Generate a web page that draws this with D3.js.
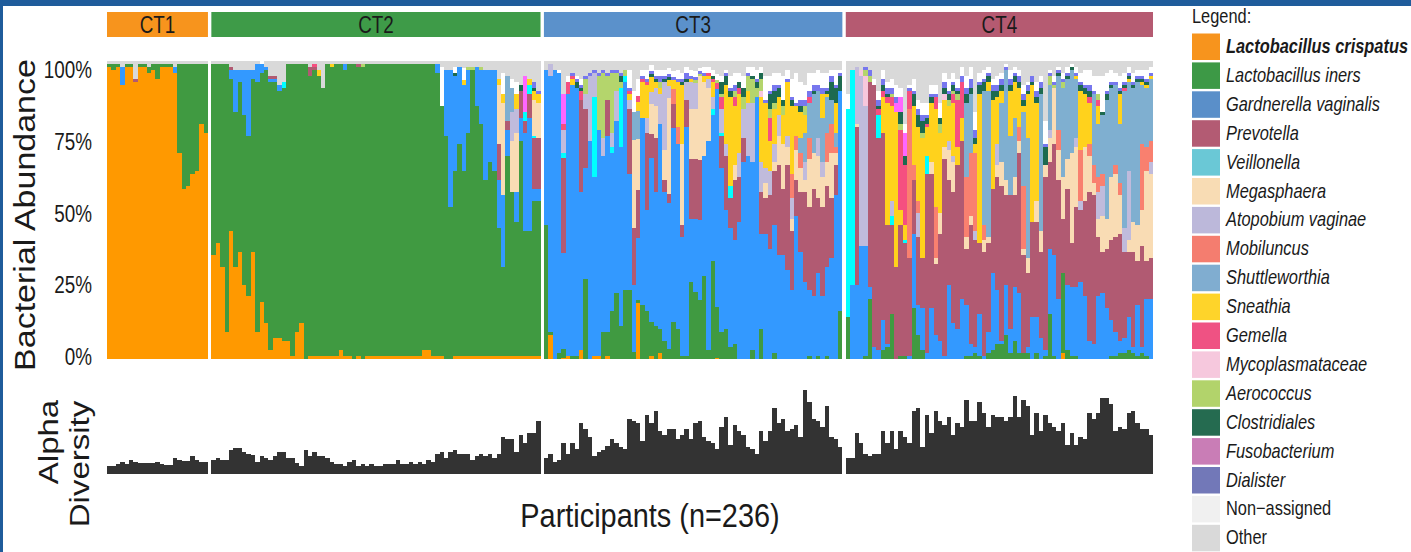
<!DOCTYPE html>
<html>
<head>
<meta charset="utf-8">
<title>Community types - bacterial abundance</title>
<script src="https://d3js.org/d3.v7.min.js"></script>
<style>
  body { margin: 0; background: #fff; }
  text { font-family: "Liberation Sans", Arial, sans-serif; fill: #1a1a1a; }
</style>
</head>
<body>
<script>
var width = 1411, height = 552;

var groups = ["CT1", "CT2", "CT3", "CT4"];
var groupColors = ["#f7941d", "#3e9b48", "#5b91cb", "#b55a71"];

var taxa = ["Lactobacillus crispatus", "Lactobacillus iners", "Gardnerella vaginalis", "Prevotella",
  "Veillonella", "Megasphaera", "Atopobium vaginae", "Mobiluncus", "Shuttleworthia", "Sneathia",
  "Gemella", "Mycoplasmataceae", "Aerococcus", "Clostridiales", "Fusobacterium", "Dialister",
  "Non\u2212assigned", "Other"];
var barColors = ["#ff9900", "#409a41", "#3399ff", "#b15a72", "#00ffff", "#f9dcb4", "#c0bbdc", "#f9806f",
  "#7fafd0", "#ffd21c", "#f54f80", "#f7c7dd", "#b4d56c", "#1d6a4f", "#ff66ff", "#7777ee", "#ffffff", "#d9d9d9"];
var legendColors = ["#f7941d", "#3d9946", "#5a8fc9", "#b35b73", "#6ac8d6", "#f8dcb4", "#bcb8da", "#f47d6f",
  "#80add0", "#fed42a", "#ef5283", "#f6c8dd", "#b2d36b", "#256b50", "#c97db6", "#7278b8", "#f0f0f0", "#d9d9d9"];

var yTicks = [0, 25, 50, 75, 100];

// % per participant, in taxa order (crispatus .. non-assigned); "Other" is the remainder
var ct1 = [[98,1],[97,2],[98,1],[92,0,6],[98,1],[98,1],[93,0,0,1],[98,1],[98,1],[96,2],[97,2],[94,5],
  [98,1],[98,1],[98,1],[96,0,2],[69,30],[57,42],[58,41],[62,37],[63,36],[79,20],[76,23]];

var ct2 = [[35,64],[39,60],[31,68],[9,90],[43,51,3,1],[31,52,14],[36,57,4],[25,57,15],[21,54,22],[36,58,3],
  [9,84,6],[19,77,3,0,0,0,0,0,0,0,0,0,0,0,0,0,1],[12,85,1],[3,90,1,1],[7,86,1,1],[7,83,2],[6,85,0,0,2],
  [6,93],[1,98],[9,90],[12,87],[0,99],[1,94,0,3],[1,96,0,1,0,0,0,0,0,0,1],[1,94,0,0,0,0,0,0,0,2],[1,90],
  [1,98],[1,97,0,0,0,0,0,0,0,1],[1,98],[3,96],[1,96,2],[1,98],[0,99],[1,97,0,1],[0,98,0,0,0,0,0,0,0,0,0,0,1],
  [1,98],[1,98],[1,98],[1,98],[1,98],[1,98],[1,98],[1,98],[1,98],[1,98],[1,98],[1,98],[1,98],[3,96],[3,96],
  [1,98],[1,95,3],[1,84,0,0,0,0,0,0,0,0,0,0,0,0,0,0,13],[0,75,22],[0,51,46],[1,62,32,0,0,0,0,0,0,0,0,0,0,1,0,0,2],
  [1,71,26],[1,62,29,0,0,0,0,0,0,1.5,0,0,0,0,0,0,4],[1,75,21,0,0,0,0,0,0,0,0,0,1],[1,96,0,0,0,0,0,0,0,0,0,0,1],
  [1,84,13],[1,78,18,0,0,0,0,0,0,0,0,0,1],[1,59,37],[1,65,31],[1,62,34],[1,43,16,12,0,20,0,0,0,2],
  [1,30,24,0,0,31,0,0,0,3,0,0,0,0,0,0,7],[1,67,9,3,0,0,0,0,15],[1,55,0,0,0,17,10,0,8,0,0,0,0,0,0,0,3],
  [1,45,10,0,0,20,8,0,0,5,0,0,0,0,0,0,4],[1,72,8,9,0,0,0,0,0,0,0,0,0,2],[1,42,33,4,3,0,0,0,0,0,0,0,0,0,12],
  [1,42,38,8,3,0,0,0,0,2],[1,52,4,17,1,12,0,0,0,3,0,0,0,1,0,2],[1,52,4,17,0,12,0,0,0,3,0,0,0,0,0,1]];

var ct3 = [[0,45,52],[8,1,86,0,0,0,4],[0,0,97],[0,2,94,0,0,0,0,0,0,0,0,0,0,0,0,0,1],
  [0.5,3,32,32,1.5,0,8,0,0,0,2,0,0,0,10],[1,0,88,0,0,0,0,0,0,0,4,0,0,0,0,0,2],[0,1,91,0,0,0,0,0,0,2,1,0,0,0,0,1],
  [0,1,90,0,0,0,0,0,0,0,0,0,0,2,0,1,1],[3,0,53,31,0,0,0,0,0,0,3,0,0,1,0,1,2],[0,27,37,20,0,0,5,0,0,0,0,0,5,0,0,1],
  [0,0,73,0,0,0,22,0,0,0,0,0,0,0,0,1],[1,0,60,0,27,0,8,0,0,0,0,0,0,0,0,1],[1,0,76,0,0,0,0,0,0,0,0,0,18,0,0,1],
  [0,9,59,0,0,0,6,0,0,0,0,0,22,0,0,1],[1,8,66,12,0,0,0,0,0,0,0,0,8,0,0,1],[0,16,53,0,2,0,5,0,0,0,0,0,20,0,0,1],
  [0,22,58,0,0,0,10,0,0,0,0,0,6,0,0,1],[0,11,60,0,20,0,0,0,0,0,0,0,2,2,0,1],[0,23,70,0,2,0,0,0,0,0,0,0,2],
  [0,23,39,22,0,0,3,0,0,2,1,0,0,0,0,1,6],[0,2.5,22.5,19,0,29.5,0,0,9.5,0,0,0,0,0,0,0,7],
  [18.7,1,21,16,0,17,0,0,9.4,3,2,0,0,0,0,0,6],[0,18,63,0,0,0,0,0,0,12,1,0,0,0,0,1,2],
  [0,16,34,26,0,0,5,0,0,11,1,0,0,0,0,1,3],[1,11.5,55,8,0,10,4,0,0,5,0,0,0,1,0,1,2],
  [0,11,45,18,0,11,6,0,0,2,0,0,0,1,0,1,2],[2,8,69,0,0,0,10,0,0,2,0,0,2,0,0,2,2],
  [0,6,50,4,0,10,23,0,0,0,0,0,0,1,0,1,2],[0,3.5,49,3,0,32,4,0,0,2,0,0,0,1,0,1,2],
  [0,12.5,65,8,0,0,0,5,0,3,0,0,0,0,0,1,2],[0,10,62,0,0,0,0,6,0,15,0,0,0,0,0,1,3],
  [0,1,40,4,0,27,0,0,0,20,0,0,0,1,0,1,2],[0,1,77,9,0,0,6,0,0,0,0,0,0,1,0,2,2],
  [0,26,21,20,0,17,9,0,0,1,0,0,0,0,0,1,2],[0,22.6,24.4,20,0,17,8.5,0,0,0,0,0,1,0,0,1,2],
  [0,19.8,27,20,0,28,0,0,0,0,0,0,1,0,0,1,1],[0,28,40,0,0,25,0,0,0,2,0,0,0,0,0,1,2],
  [0,3,70,0,0,18,3,0,0,1,1,0,0,0,0,0,2],[0,33,49,0,2,0,4,0,0,5,1,0,0,1,0,0,2],
  [0.5,17,73,0,0,0,0,0,0,0,2,0,1,0,0,0,2],[0,9,55,11,1,0,8,0,0,0,4,0,1,4,0,0,2],
  [0,10,40,18,0,0,4,0,0,20,0,0,0,3,0,1,1],[0,4,40,10,4,0,0,0,0,30,0,0,0,2,0,1,4],
  [0,5,35,20,0,5,0,0,0,20,3,0,2,0,0,2,4],[0,0,46,15,0,0,8,0,0,20,2,0,0,2,0,0,3],
  [0,0,66,8,0,0,10,0,0,0,0,0,4,3,0,0,4],[0,0,68,0,0,0,18,0,0,4,0,0,5,0,0,1,2],
  [0,3,63,0,0,0,20,0,0,0,0,0,8,1,0,0,3],[0,0,88,0,0,0,0,0,0,0,0,0,3,2,0,1,3],
  [0,10,32,14,0,0,10,0,0,22,0,2,4,2,0,0,2],[0,0,42,12,0,5,5,0,0,22,0,0,0,0,0,1,8],
  [0,0,37,18,0,0,8,0,0,10,8,0,3,5,0,1,5],[0,2,43,18,0,3,6,0,0,12,0,0,2,4,0,2,4],
  [0,0,35,30,0,10,7,0,0,6,0,0,0,3,0,1,4],[0,0,35,22,0,15,0,0,0,10,0,0,3,2,0,0,8],
  [0,0,30,35,0,6,4,0,0,18,0,0,0,0,0,1,3],[0,0,23,20,0,4,7,8,0,23,0,0,0,2,0,1,6],
  [0,0,48,12,0,10,0,5,0,10,0,0,0,0,0,1,10],[0,0,36,20,0,8,0,5,5,9,0,0,0,2,0,2,6],
  [0,0,26,30,0,4,6,0,10,6,0,0,3,0,0,2,5],[0,1,22,28,0,16,0,7,12,0,2,0,0,0,0,2,6],
  [0,0,21,36,0,12,0,0,20,0,0,0,0,1,0,2,4],[0,1,28,25,0,14,6,0,16,0,0,0,0,0,0,2,5],
  [0,0,21,30,0,10,5,0,15,8,0,0,0,0,0,2,5],[0,1,30,27,0,8,0,10,12,1,0,0,0,1,0,1,5],
  [0,0,34,20,0,15,0,10,8,0,0,0,0,6,0,2,2],[0,0,55,10,0,4,0,2,5,10,0,0,0,5,0,1,5],
  [0,16,74,0,0,0,0,0,0,0,0,0,0,5,0,1,1]];

var ct4 = [[0,14,0,0,70,0,0,0,0,0,0,0,0,0,0,0,5],[0,0,25,0,72],[0,0,25,53,0,1,19],
  [0,0,38,0,0,0,57,0,0,0,0,2],[0,1,37,0,0,0,47,0,0,0,0,10,2,0,0,1],[0,20,4,69,0,0,0,0,0,0,0,0,2,0,0,2],
  [0,0,4,88,0,0,0,0,0,0,0,0,0,0,0,0,2],[0,0,3,71,8,0,0,0,0,0,2,0,0,1,0,2,3],
  [0,3,10,63,0,0,0,0,0,12,2,0,0,2,0,2,3],[0,4,1,40,0,0,0,0,0,41,2,0,0,1,0,2,2],
  [0,15,0,30,3,0,5,0,0,32,3,0,1,0,0,2,3],[0,0,0,31,0,0,0,0,0,52,0,0,0,0,3,2,4],
  [0,1,0,44,0,0,0,0,0,5,27,0,2,4,5,0,3],[0,1,0,38,1,0,0,0,0,5,20,0,0,3,8,0,3],
  [0,0,1,33,0,0,0,50,0,0,6,0,0,0,0,1,1],[0,17,25,18,0,0,0,5,0,20,0,0,0,4,0,1,4],
  [0,8,10,23,0,0,8,4,0,25,0,0,0,4,0,2,3],[0,3,14,17,0,0,0,0,0,40,0,0,2,4,0,2,4],
  [0,0,2,60,6,0,0,0,0,10,1,0,0,2,0,1,4],[0,0,17,45,0,4,0,0,0,20,0,0,0,2,0,1,3],
  [0,0,8,24,0,2,0,17,0,33,4,0,0,0,0,1,3],[0,0,6,36,0,7,0,0,0,27,0,0,3,2,0,0,5],
  [0,0,1,66,0,4,0,0,0,16,0,2,0,2,0,2,3],[0,0,25,35,0,10,3,0,0,12,0,0,2,2,0,1,4],
  [0,0,12,44,0,10,2,0,0,18,3,0,1,2,0,1,3],[0,0,10,55,0,0,0,0,0,6,16,0,2,1,0,1,3],
  [0,0,20,53,0,0,0,0,0,8,12,0,0,0,0,2,3],[0,1,17,19,0,4,0,20,25,0,0,0,0,3,0,2,4],
  [0,1,4,40,0,3,0,21,20,0,0,0,0,2,0,3,4],[0,2,2,36,0,0,3,26,0,3,0,0,0,2,0,3,6],
  [0,1,14,24,0,0,0,0,0,50,0,0,0,3,0,1,3],[0,0,1,35,0,4,0,5,45,0,0,0,0,3,0,1,3],
  [0,2,7,30,0,2,0,0,49,3,0,0,0,2,0,1,2],[0,3,26,28,0,0,0,0,0,30,0,0,0,3,0,2,2],
  [0,5,18,38,0,4,7,0,0,16,0,0,0,2,0,2,3],[0,5,1,52,0,8,0,0,20,4,0,0,0,2,0,2,2],
  [0,8,17,30,0,5,0,0,37,0,0,0,0,0,0,1,1],[0,2,8,45,0,0,0,0,20,15,0,0,0,2,0,2,3],
  [0,6,18,31,0,6,0,0,20,12,0,0,0,2,0,1,2],[0,2,20,47,0,4,0,5,0,13,0,0,0,2,0,2,2],
  [0,2,0,33,0,2,0,21,25,2,0,0,0,2,0,2,3],[0,2,2,25,0,5,0,0,40,15,0,0,0,1,0,2,1],
  [0,0,14,32,0,0,0,0,0,46,0,0,0,1,0,2],[0,2,12,32,0,7,0,0,0,33,0,0,0,2,0,2,3],
  [0,0,7,29,0,7,0,0,46,0,0,0,0,2,0,2,2],[0,1,2,58,0,4,0,0,0,0,0,0,0,6,0,1,8],
  [0,15,22,29,0,8,3,0,15,0,0,0,3,0,0,1,1],[0,1,34,37,0,19,0,0,0,0,0,0,1,0,0,1,2],
  [0,0,20,40,0,10,0,7,18,0,0,0,0,1,0,1,1],[2,27,0,18,0,14,0,0,30,0,0,0,2,0,0,1,2],
  [0,3,22,32,0,10,0,0,27,0,0,0,0,1,0,1,2],[0,1,23,15,0,30,0,0,28,0,0,0,0,1,0,0,1],
  [0,1,23,27,0,20,3,0,20,1,0,0,0,0,0,1,2],[0,0,26,24,0,0,3,17,0,20,0,0,0,2,0,1,3],
  [0,0,21,32,0,18,0,0,0,18,0,0,0,2,0,1,5],[0,0,6,50,0,12,0,4,0,14,2,0,0,2,0,2,5],
  [0,0,5,50,0,4,0,6,24,0,0,0,0,0,0,1,5],[0,0,21,20,0,6,9,5,18,6,2,0,2,0,0,0,6],
  [0,0,22,14,0,12,10,4,20,0,0,0,0,1,0,0,12],[0,0,17,20,0,10,0,0,40,0,0,0,0,2,0,1,6],
  [0,1,12,27,0,21,0,0,30,0,0,0,0,1,0,1,4],[0,1,8,32,0,21,0,3,27,0,0,0,0,0,0,1,3],
  [0,2,4,36,0,13,0,4,20,10,0,0,0,1,0,1,4],[0,2,5,29,0,0,8,0,46,0,1,0,0,1,0,1,3],
  [0,3,11,22,0,4,23,0,30,1,0,0,0,1,0,1,2],[0,2,2,32,0,10,0,0,45,0,0,0,0,1,0,1,3],
  [0,1,17,15,0,12,0,0,48,0,0,0,0,1,0,1,2],[0,2,2,34,0,12,0,22,20,1,0,0,0,1,0,1,2],
  [0,1,19,13,0,30,0,8,20,1,0,0,0,1,0,1,3],[0,0,20,14,0,28,4,7,21,1,0,0,0,0,0,1,2]];

// alpha diversity, arbitrary units
var alpha1 = [8,8,10,12,10,14,12,11,11,11,11,12,10,9,9,16,14,13,13,18,14,12,12];
var alpha2 = [14,16,14,14,24,26,26,22,20,19,12,18,16,14,18,22,22,16,16,11,8,24,18,22,18,18,16,12,10,10,
  8,12,14,8,10,8,10,8,8,10,10,10,14,10,10,12,10,12,10,14,12,20,22,16,22,24,20,20,20,14,18,20,18,20,16,
  20,37,35,35,22,39,31,41,41,53];
var alpha3 = [16,20,12,14,31,20,31,25,51,45,37,18,22,24,28,35,31,27,25,55,53,51,33,59,51,63,43,39,45,45,
  35,39,45,35,51,53,37,33,31,25,47,57,29,49,43,39,27,25,20,43,33,43,66,51,55,43,45,49,37,84,72,55,53,47,
  68,37,35,27];
var alpha4 = [16,16,41,31,20,18,20,20,43,31,43,25,43,37,31,63,66,27,59,41,63,53,49,57,39,51,47,74,53,53,
  72,61,47,59,57,57,53,57,78,57,74,68,39,61,43,59,51,47,43,51,29,41,29,37,35,61,55,61,76,76,70,43,47,45,
  61,63,51,45,45,39];

var rows = [ct1, ct2, ct3, ct4];
var alphas = [alpha1, alpha2, alpha3, alpha4];

var svg = d3.select("body").append("svg")
  .attr("width", width)
  .attr("height", height);

// frame
svg.append("rect").attr("x", 0).attr("y", 0).attr("width", width).attr("height", 6).attr("fill", "#1f5c9b");
svg.append("rect").attr("x", 0).attr("y", 0).attr("width", 3).attr("height", height).attr("fill", "#1f5c9b");

// facets
var left = 107, right = 1153, gap = 3.4;
var total = d3.sum(rows, function(r) { return r.length; });
var bw = (right - left - gap * (rows.length - 1)) / total;
var xs = [];
var start = 0;
rows.forEach(function(r, g) {
  var x0 = left + start * bw + g * gap;
  xs.push(d3.scaleBand().domain(d3.range(r.length)).range([x0, x0 + r.length * bw]).padding(0));
  start += r.length;
});

var y = d3.scaleLinear().domain([0, 100]).range([359, 61]);
var yLab = d3.scaleLinear().domain([0, 100]).range([357, 70]);
var ya = d3.scaleLinear().domain([0, 100]).range([474, 374]);

// horizontally squeezed text helper
function label(parent, x, yy, txt, size, anchor, rot, sq) {
  var g = parent.append("g").attr("transform",
    "translate(" + x + "," + yy + ")" + (rot ? " rotate(-90) scale(1," + sq + ")" : " scale(" + sq + ",1)"));
  return g.append("text").attr("text-anchor", anchor).attr("font-size", size).text(txt);
}

// strips
groups.forEach(function(name, g) {
  var r = xs[g].range();
  svg.append("rect").attr("x", r[0]).attr("y", 12).attr("width", r[1] - r[0]).attr("height", 25)
    .attr("fill", groupColors[g]);
  label(svg, (r[0] + r[1]) / 2, 32.5, name, 23, "middle", false, 0.82);
});

// stacked data
var data = [];
rows.forEach(function(r, g) {
  r.forEach(function(v, i) {
    var o = { g: g, i: i, a: alphas[g][i] };
    var s = 0;
    for (var k = 0; k < 17; k++) { o[k] = v[k] || 0; s += o[k]; }
    if (s > 100) { for (k = 0; k < 17; k++) o[k] = o[k] * 100 / s; s = 100; }
    o[17] = 100 - s;
    data.push(o);
  });
});

var series = d3.stack().keys(d3.range(18))(data);

svg.append("g").selectAll("g")
  .data(series)
  .enter().append("g")
  .attr("fill", function(d) { return barColors[d.key]; })
  .selectAll("rect")
  .data(function(d) { return d; })
  .enter().append("rect")
  .attr("shape-rendering", "crispEdges")
  .attr("x", function(d) { return xs[d.data.g](d.data.i); })
  .attr("width", function(d) { return xs[d.data.g].bandwidth(); })
  .attr("y", function(d) { return y(d[1]); })
  .attr("height", function(d) { return Math.max(0, y(d[0]) - y(d[1])); });

// alpha diversity bars
svg.append("g").selectAll("rect")
  .data(data)
  .enter().append("rect")
  .attr("shape-rendering", "crispEdges")
  .attr("fill", "#333333")
  .attr("x", function(d) { return xs[d.g](d.i); })
  .attr("width", function(d) { return xs[d.g].bandwidth(); })
  .attr("y", function(d) { return ya(d.a); })
  .attr("height", function(d) { return ya(0) - ya(d.a); });

// y tick labels
yTicks.forEach(function(t) {
  label(svg, 92, yLab(t) + 8, t + "%", 23, "end", false, 0.82);
});

// titles
label(svg, 35, 215, "Bacterial Abundance", 34, "middle", true, 0.85);
label(svg, 58, 442, "Alpha", 33, "middle", true, 0.85);
label(svg, 89, 464, "Diversity", 33, "middle", true, 0.85);
label(svg, 650, 527, "Participants (n=236)", 34, "middle", false, 0.85);

// legend
var lg = svg.append("g");
label(lg, 1192, 23, "Legend:", 20, "start", false, 0.82);
taxa.forEach(function(t, i) {
  var yy = 33.5 + i * 28.9;
  lg.append("rect").attr("x", 1192).attr("y", yy).attr("width", 28).attr("height", 26.5)
    .attr("fill", legendColors[i]);
  var tx = label(lg, 1226, yy + 19.5, t, 20, "start", false, 0.82);
  if (i < 16) tx.attr("font-style", "italic");
  if (i === 0) tx.attr("font-weight", "bold");
});
</script>
</body>
</html>
